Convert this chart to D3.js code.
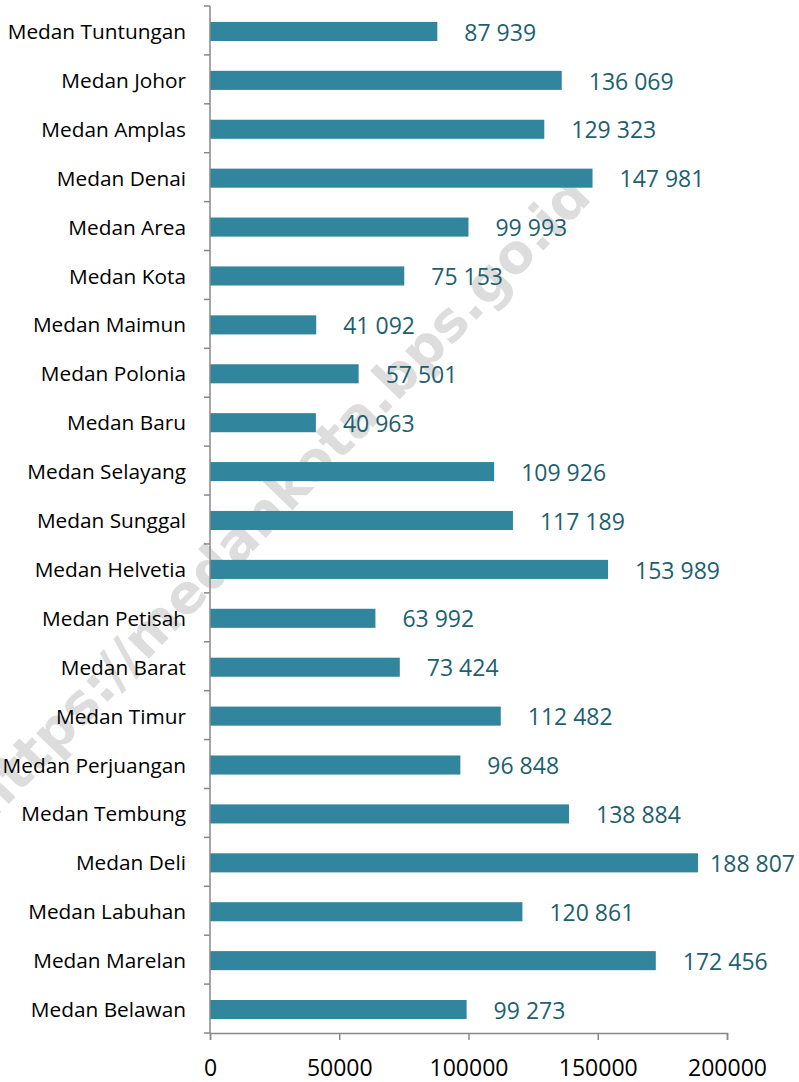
<!DOCTYPE html>
<html>
<head>
<meta charset="utf-8">
<script src="https://cdn.jsdelivr.net/npm/d3@7"></script>
<style>
body { margin: 0; background: #fff; }
text { font-family: "Open Sans", "Noto Sans", sans-serif; }
</style>
</head>
<body>
<svg id="chart"></svg>
<script>
var districts = ["Medan Tuntungan", "Medan Johor", "Medan Amplas", "Medan Denai", "Medan Area",
    "Medan Kota", "Medan Maimun", "Medan Polonia", "Medan Baru", "Medan Selayang", "Medan Sunggal",
    "Medan Helvetia", "Medan Petisah", "Medan Barat", "Medan Timur", "Medan Perjuangan",
    "Medan Tembung", "Medan Deli", "Medan Labuhan", "Medan Marelan", "Medan Belawan"];
var population = [87939, 136069, 129323, 147981, 99993, 75153, 41092, 57501, 40963, 109926, 117189,
    153989, 63992, 73424, 112482, 96848, 138884, 188807, 120861, 172456, 99273];
var xTicks = [0, 50000, 100000, 150000, 200000];

var margin = { top: 6, right: 72, bottom: 49, left: 210 },
    width = 799 - margin.left - margin.right,
    height = 1082 - margin.top - margin.bottom;

var svg = d3.select("#chart")
    .attr("width", 799)
    .attr("height", 1082);

// watermark
svg.append("text")
    .attr("transform", "translate(282,500) rotate(-46)")
    .attr("text-anchor", "middle")
    .attr("dominant-baseline", "middle")
    .attr("fill", "#dddddd")
    .style("font-family", "'DejaVu Sans', sans-serif")
    .style("font-weight", "bold")
    .style("font-size", "54px")
    .text("https://medankota.bps.go.id");

var g = svg.append("g")
    .attr("transform", "translate(" + margin.left + "," + margin.top + ")");

var x = d3.scaleLinear()
    .domain([0, 200000])
    .range([0, 517]);

var y = d3.scaleBand()
    .domain(districts)
    .range([0, height])
    .paddingInner(0.61)
    .paddingOuter(0.305);

var yb = d3.scaleLinear().domain([0, districts.length]).range([0, height]);

// bars
g.selectAll(".bar")
    .data(population)
    .enter().append("rect")
    .attr("class", "bar")
    .attr("x", 0)
    .attr("y", function (d, i) { return y(districts[i]) + 1; })
    .attr("width", function (d) { return x(d); })
    .attr("height", y.bandwidth())
    .attr("fill", "#31859c");

// value labels, pulled back in if they would run off the right edge
var maxRight = 799 - margin.left - 4;
g.selectAll(".val")
    .data(population)
    .enter().append("text")
    .attr("class", "val")
    .attr("y", function (d, i) { return y(districts[i]) + y.bandwidth() / 2 + 4; })
    .attr("dominant-baseline", "middle")
    .attr("fill", "#215f6e")
    .style("font-size", "23px")
    .text(function (d) { return d3.format(",")(d).replace(",", " "); })
    .attr("x", function (d) {
        var w = this.getComputedTextLength();
        return Math.min(x(d) + 27, maxRight - w);
    });

// y axis line and ticks
g.append("line")
    .attr("x1", 0).attr("x2", 0)
    .attr("y1", 0).attr("y2", height)
    .attr("stroke", "#888").attr("stroke-width", 1.5);

g.selectAll(".ytick")
    .data(d3.range(districts.length + 1))
    .enter().append("line")
    .attr("class", "ytick")
    .attr("x1", -6).attr("x2", 0)
    .attr("y1", function (d) { return yb(d); })
    .attr("y2", function (d) { return yb(d); })
    .attr("stroke", "#888").attr("stroke-width", 1.5);

g.selectAll(".cat")
    .data(districts)
    .enter().append("text")
    .attr("class", "cat")
    .attr("x", -24)
    .attr("y", function (d) { return y(d) + y.bandwidth() / 2 + 3; })
    .attr("text-anchor", "end")
    .attr("dominant-baseline", "middle")
    .attr("fill", "#000")
    .style("font-size", "20.8px")
    .text(function (d) { return d; });

// x axis
var xAxis = g.append("g")
    .attr("transform", "translate(0," + height + ")")
    .call(d3.axisBottom(x).tickValues(xTicks).tickSize(7).tickPadding(20).tickFormat(d3.format("d")));
xAxis.select(".domain").attr("stroke", "#888").attr("stroke-width", 1.5);
xAxis.selectAll(".tick line").attr("stroke", "#888").attr("stroke-width", 1.5);
xAxis.selectAll(".tick text")
    .attr("fill", "#000")
    .style("font-family", "'Open Sans', sans-serif")
    .style("font-size", "23px");
</script>
</body>
</html>
